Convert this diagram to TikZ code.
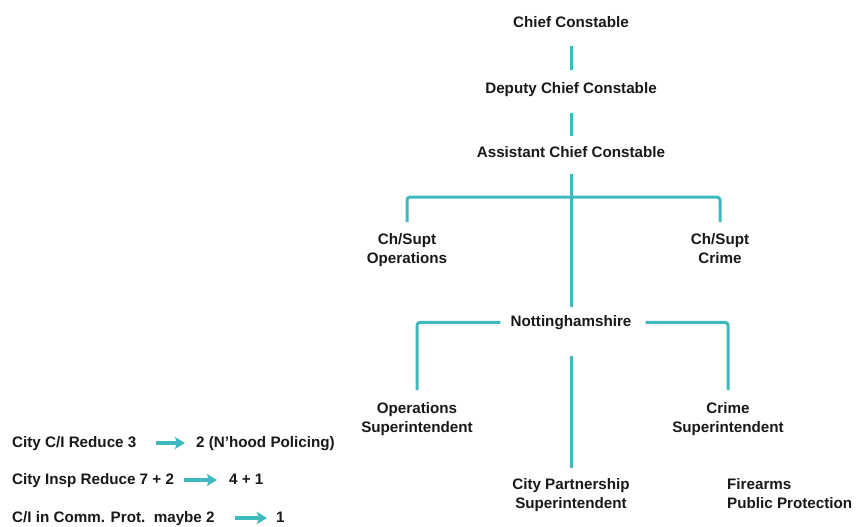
\documentclass[tikz,border=0pt]{standalone}
\usepackage{fontspec}
\setmainfont{Liberation Sans}
\usetikzlibrary{arrows.meta,calc}
\definecolor{teal1}{RGB}{62,186,190}
\definecolor{txt}{RGB}{25,25,25}
\tikzset{
  lbl/.style={font=\bfseries\fontsize{15.2}{19}\selectfont, text=txt, inner sep=0pt, align=center},
  lbll/.style={lbl, align=left},
  note/.style={lbl, text height=11pt, text depth=3pt},
  link/.style={draw=teal1, line width=3pt},
  bar/.style={link, rounded corners=3pt},
  arr/.style={draw=teal1, line width=4pt, -{Stealth[length=10pt,width=12pt,inset=2pt]}},
}
\begin{document}
\begin{tikzpicture}[x=1pt,y=-1pt]
\useasboundingbox[fill=white] (0,0) rectangle (859,527);
% hierarchy
\node[lbl, anchor=north] (cc)   at (571,16)  {Chief Constable};
\node[lbl, anchor=north] (dcc)  at (571,82)  {Deputy Chief Constable};
\node[lbl, anchor=north] (acc)  at (571,146) {Assistant Chief Constable};
\node[lbl, anchor=north] (chops) at (407,233) {Ch/Supt\\Operations};
\node[lbl, anchor=north] (chcr)  at (720,233) {Ch/Supt\\Crime};
\node[lbl, anchor=north] (notts) at (571,315) {Nottinghamshire};
\node[lbl, anchor=north] (opsup) at (417,402) {Operations\\Superintendent};
\node[lbl, anchor=north] (crsup) at (728,402) {Crime\\Superintendent};
\node[lbl, anchor=north] (cps)   at (571,478) {City Partnership\\Superintendent};
\node[lbll, anchor=north west] (fire) at (727,478) {Firearms\\Public Protection};
\coordinate (junc) at (571,197);
% connectors
\draw[link] ($(cc.south)+(0,18)$) -- ($(dcc.north)+(0,-12)$);
\draw[link] ($(dcc.south)+(0,16)$) -- ($(acc.north)+(0,-10)$);
\draw[link] ($(acc.south)+(0,16)$) -- (junc) -- ($(notts.north)+(0,-8)$);
\draw[bar] ($(chops.north)+(0,-11)$) -- (chops.north |- junc) -- (chcr.north |- junc) -- ($(chcr.north)+(0,-11)$);
\draw[bar] ($(notts.west)+(-10,0)$) -- (opsup.north |- notts.west) -- ($(opsup.north)+(0,-12)$);
\draw[bar] ($(notts.east)+(14,0)$) -- (crsup.north |- notts.east) -- ($(crsup.north)+(0,-12)$);
\draw[link] ($(notts.south)+(0,26)$) -- ($(cps.north)+(0,-10)$);
% notes
\node[note, anchor=base west] (n1a) at (12,447) {City C/I Reduce 3};
\node[note, anchor=base west] (n1b) at (196,447) {2 (N’hood Policing)};
\node[note, anchor=base west] (n2a) at (12,484) {City Insp Reduce 7 + 2};
\node[note, anchor=base west] (n2b) at (229,484) {4 + 1};
\node[note, anchor=base west] (n3a) at (12,522) {C/I in Comm. Prot.\ \ maybe 2};
\node[note, anchor=base west] (n3b) at (276,522) {1};
\draw[arr] ($(n1a.east)+(19,0)$) -- ($(n1b.west)+(-11,0)$);
\draw[arr] ($(n2a.east)+(10,0)$) -- ($(n2b.west)+(-12,0)$);
\draw[arr] ($(n3a.east)+(20,0)$) -- ($(n3b.west)+(-9,0)$);
\end{tikzpicture}
\end{document}
